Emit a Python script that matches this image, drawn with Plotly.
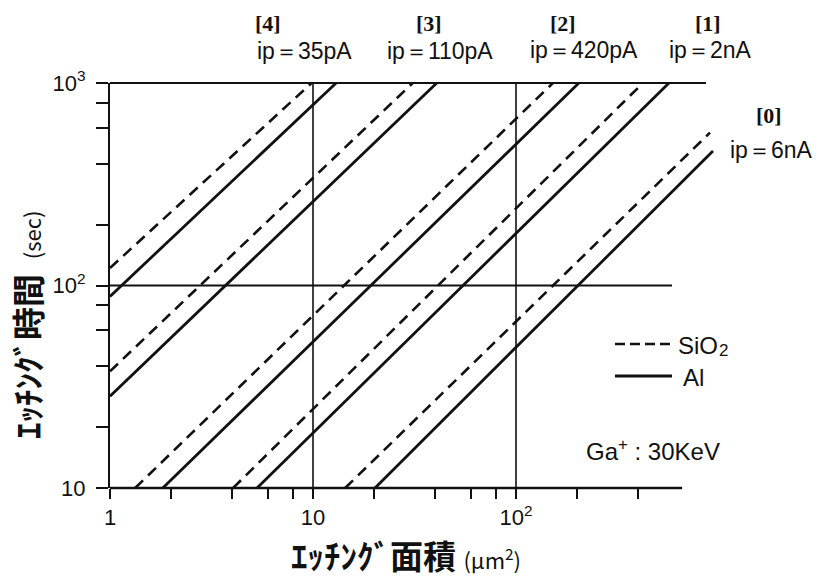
import math
import plotly.graph_objects as go

# ---------------- data ----------------
beam_tags = ["[4]", "[3]", "[2]", "[1]", "[0]"]
beam_currents = ["ip＝35pA", "ip＝110pA", "ip＝420pA", "ip＝2nA", "ip＝6nA"]

# SiO2 (dashed) lines: start / end points (area µm², time s)
sio2_area_start = [1.0, 1.0, 1.33, 4.04, 14.4]
sio2_time_start = [122, 37.7, 10, 10, 10]
sio2_area_end = [9.85, 31.0, 152, 422, 903]
sio2_time_end = [1000, 1000, 1000, 1000, 569]

# Al (solid) lines
al_area_start = [1.0, 1.0, 1.82, 5.3, 20.2]
al_time_start = [88.3, 28.4, 10, 10, 10]
al_area_end = [13.0, 40.7, 204, 567, 934]
al_time_end = [1000, 1000, 1000, 1000, 462]

x_major = [1, 10, 100]
x_major_text = ["1", "10", "10<sup>2</sup>"]
x_minor = [2, 4, 6, 8, 20, 40, 60, 80, 200, 400]
y_major = [10, 100, 1000]
y_major_text = ["10", "10<sup>2</sup>", "10<sup>3</sup>"]
y_minor = [20, 40, 60, 80, 200, 400, 600, 800]

x_title = "<b>ｴｯﾁﾝｸﾞ面積</b> <span style='font-size:22px'>(μm<sup>2</sup>)</span>"
y_title = "<b>ｴｯﾁﾝｸﾞ時間</b>  <span style='font-size:22px'>(sec)</span>"
legend_names = ["SiO", "Al"]
condition_note = "Ga<sup>+</sup> : 30KeV"

# ---------------- layout geometry ----------------
W, H = 823, 578
ML, MR, MT, MB = 110, 104, 83, 90
X_RANGE = [0, 3.0]
Y_RANGE = [1, 3]
PW = W - ML - MR
PH = H - MT - MB


def px_x(px):
    return (px - ML) / PW


def px_y(py):
    return (H - MB - py) / PH


def dx(v):
    return (math.log10(v) - X_RANGE[0]) / (X_RANGE[1] - X_RANGE[0])


def dy(v):
    return (math.log10(v) - Y_RANGE[0]) / (Y_RANGE[1] - Y_RANGE[0])


BLACK = "#111111"
DASH = "11px,7px"

fig = go.Figure()

for i in range(len(beam_tags)):
    fig.add_trace(go.Scatter(
        x=[sio2_area_start[i], sio2_area_end[i]],
        y=[sio2_time_start[i], sio2_time_end[i]],
        mode="lines", line=dict(color=BLACK, width=2.6, dash=DASH),
        name="SiO2 " + beam_tags[i], showlegend=False, hoverinfo="skip"))
    fig.add_trace(go.Scatter(
        x=[al_area_start[i], al_area_end[i]],
        y=[al_time_start[i], al_time_end[i]],
        mode="lines", line=dict(color=BLACK, width=2.8),
        name="Al " + beam_tags[i], showlegend=False, hoverinfo="skip"))

shapes = []
# frame / grid lines (paper coords)
shapes.append(dict(type="line", xref="paper", yref="paper", x0=0, x1=dx(863), y0=1, y1=1,
                   line=dict(color=BLACK, width=2.2)))
shapes.append(dict(type="line", xref="paper", yref="paper", x0=0, x1=dx(658), y0=0, y1=0,
                   line=dict(color=BLACK, width=2.6)))
shapes.append(dict(type="line", xref="paper", yref="paper", x0=0, x1=dx(587), y0=dy(100), y1=dy(100),
                   line=dict(color=BLACK, width=1.8)))
for v in (10, 100):
    shapes.append(dict(type="line", xref="paper", yref="paper", x0=dx(v), x1=dx(v), y0=0, y1=1,
                       line=dict(color=BLACK, width=1.6)))
# manual legend
shapes.append(dict(type="line", xref="paper", yref="paper", x0=px_x(615), x1=px_x(670),
                   y0=px_y(344), y1=px_y(344), line=dict(color=BLACK, width=2.6, dash="10px,5px")))
shapes.append(dict(type="line", xref="paper", yref="paper", x0=px_x(615), x1=px_x(672),
                   y0=px_y(376), y1=px_y(376), line=dict(color=BLACK, width=2.8)))

annotations = []
tag_pos = [(268, 23), (429, 24), (563, 24), (708, 24), (769, 115)]
cur_pos = [(304, 51), (440, 51), (584, 50), (710, 50), (771, 150)]
for i in range(len(beam_tags)):
    annotations.append(dict(x=px_x(tag_pos[i][0]), y=px_y(tag_pos[i][1]), xref="paper", yref="paper",
                            text="<b>" + beam_tags[i] + "</b>", showarrow=False,
                            font=dict(family="Liberation Serif", size=22, color=BLACK),
                            xanchor="center", yanchor="middle"))
    annotations.append(dict(x=px_x(cur_pos[i][0]), y=px_y(cur_pos[i][1]), xref="paper", yref="paper",
                            text=beam_currents[i], showarrow=False,
                            font=dict(family="Liberation Sans", size=23, color=BLACK),
                            xanchor="center", yanchor="middle"))
# legend labels: "SiO" + small subscript "2"
annotations.append(dict(x=px_x(676), y=px_y(345), xref="paper", yref="paper",
                        text=legend_names[0], showarrow=False,
                        font=dict(family="Liberation Sans", size=24, color=BLACK),
                        xanchor="left", yanchor="middle"))
annotations.append(dict(x=px_x(717), y=px_y(350), xref="paper", yref="paper",
                        text="2", showarrow=False,
                        font=dict(family="Liberation Sans", size=17, color=BLACK),
                        xanchor="left", yanchor="middle"))
annotations.append(dict(x=px_x(681), y=px_y(377), xref="paper", yref="paper",
                        text=legend_names[1], showarrow=False,
                        font=dict(family="Liberation Sans", size=24, color=BLACK),
                        xanchor="left", yanchor="middle"))
annotations.append(dict(x=px_x(653), y=px_y(450), xref="paper", yref="paper",
                        text=condition_note, showarrow=False,
                        font=dict(family="Liberation Sans", size=24, color=BLACK),
                        xanchor="center", yanchor="middle"))
# axis titles
annotations.append(dict(x=px_x(406), y=px_y(555), xref="paper", yref="paper",
                        text=x_title, showarrow=False,
                        font=dict(family="Noto Sans CJK JP", size=33, color=BLACK),
                        xanchor="center", yanchor="middle"))
annotations.append(dict(x=px_x(27), y=px_y(325), xref="paper", yref="paper",
                        text=y_title, showarrow=False, textangle=-90,
                        font=dict(family="Noto Sans CJK JP", size=33, color=BLACK),
                        xanchor="center", yanchor="middle"))

fig.update_layout(
    width=W, height=H,
    margin=dict(l=ML, r=MR, t=MT, b=MB, autoexpand=False),
    paper_bgcolor="white", plot_bgcolor="white",
    showlegend=False,
    shapes=shapes, annotations=annotations,
    xaxis=dict(type="log", range=X_RANGE, tickvals=x_major, ticktext=x_major_text,
               ticks="outside", ticklen=10, tickwidth=1.8, tickcolor=BLACK,
               minor=dict(tickvals=x_minor, ticks="outside", ticklen=10, tickwidth=1.6,
                          tickcolor=BLACK, showgrid=False),
               showgrid=False, showline=False, zeroline=False,
               tickfont=dict(family="Liberation Sans", size=22, color=BLACK)),
    yaxis=dict(type="log", range=Y_RANGE, tickvals=y_major, ticktext=y_major_text,
               ticks="outside", ticklen=12, tickwidth=1.8, tickcolor=BLACK,
               minor=dict(tickvals=y_minor, ticks="outside", ticklen=12, tickwidth=1.6,
                          tickcolor=BLACK, showgrid=False),
               ticklabelstandoff=6,
               showgrid=False, showline=True, linewidth=2.2, linecolor=BLACK, zeroline=False,
               tickfont=dict(family="Liberation Sans", size=22, color=BLACK)),
)

fig.write_html("out.html")
